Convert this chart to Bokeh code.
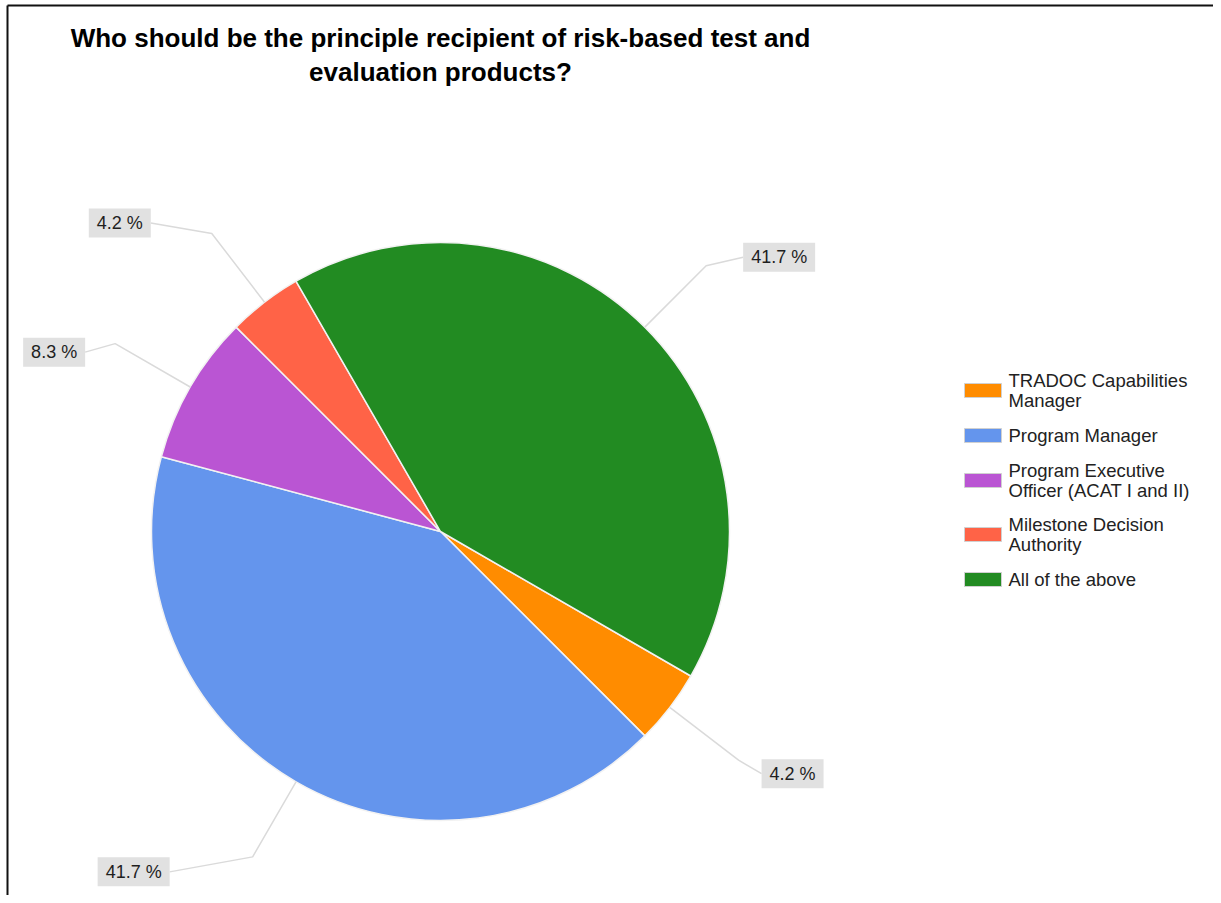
import math
import textwrap
import numpy as np
from bokeh.plotting import figure
from bokeh.models import Range1d, ColumnDataSource
from bokeh.core.properties import value
from bokeh.embed import file_html
from bokeh.resources import INLINE

# ---------------- data ----------------
title_lines = ["Who should be the principle recipient of risk-based test and",
               "evaluation products?"]
categories = ["TRADOC Capabilities Manager",
              "Program Manager",
              "Program Executive Officer (ACAT I and II)",
              "Milestone Decision Authority",
              "All of the above"]
responses = [1, 10, 2, 1, 10]
colors = ["#FF8C00", "#6495ED", "#BA55D3", "#FF6347", "#228B22"]

# ---------------- layout ----------------
W, H = 1213, 895
FONT = "Liberation Sans"


def X(sx):
    return sx


def Y(sy):
    return H - sy


p = figure(width=W, height=H, x_range=Range1d(0, W), y_range=Range1d(0, H),
           output_backend="svg", toolbar_location=None, min_border=0,
           x_axis_location=None, y_axis_location=None)
p.grid.visible = False
p.outline_line_color = None
p.background_fill_color = "white"
p.border_fill_color = "white"

# frame lines (top and left, as in the reference crop)
p.segment(x0=[X(7), X(7)], y0=[Y(5), Y(5)], x1=[W, X(7)], y1=[Y(5), 0],
          line_color="#111111", line_width=2)

# title
p.text(x=[X(440)] * 2, y=[Y(37), Y(71)], text=title_lines,
       text_font=value(FONT), text_font_style="bold", text_font_size="26px",
       text_align="center", text_baseline="alphabetic", text_color="black")

# ---------------- pie ----------------
cx, cy, R = X(440), Y(531), 289
start0 = math.radians(-30)
vals = np.array(responses, dtype=float)
frac = vals / vals.sum()
cum_after = np.cumsum(frac)
cum_before = cum_after - frac
starts = start0 - 2 * np.pi * cum_before
ends = start0 - 2 * np.pi * cum_after

src = ColumnDataSource(dict(s=starts, e=ends, color=colors))
p.wedge(x=cx, y=cy, radius=R, start_angle="s", end_angle="e", direction="clock",
        fill_color="color", line_color="#f2f2f2", line_width=1.5, source=src)

# ---------------- percentage labels ----------------
label_offsets = [(54, -13.5), (-119, -15), (-61, -8.5), (-92, 10.5), (73, 8.5)]
mids = (starts + ends) / 2
pct_text = [f"{f * 100:.1f} %" for f in frac]

lx, ly, bx, by, bw = [], [], [], [], []
for m, (ox, oy), t in zip(mids, label_offsets, pct_text):
    ex, ey = cx + R * math.cos(m), cy + R * math.sin(m)
    kx, ky = cx + 1.3 * R * math.cos(m), cy + 1.3 * R * math.sin(m)
    w = 10 * len(t) + 12
    bcx, bcy = kx + ox, ky + oy
    endx = bcx - w / 2 if ox > 0 else bcx + w / 2
    lx.append([ex, kx, endx])
    ly.append([ey, ky, bcy])
    bx.append(bcx)
    by.append(bcy)
    bw.append(w)

p.multi_line(xs=lx, ys=ly, line_color="#dadada", line_width=1.5)
p.rect(x=bx, y=by, width=bw, height=29, fill_color="#e1e1e1", line_color=None)
p.text(x=bx, y=by, text=pct_text, text_font=value(FONT), text_font_size="18px",
       text_align="center", text_baseline="middle", text_color="#1f1f1f")

# ---------------- legend ----------------
wrapped = ["\n".join(textwrap.wrap(c, 23)) for c in categories]
ycur = Y(390) + 27  # top of first entry (2-line entry height 54)
sw_y = []
for t in wrapped:
    n = t.count("\n") + 1
    h = 18 * (n + 1)
    c = ycur - h / 2
    sw_y.append(c)
    ycur -= h

p.rect(x=[X(982.5)] * len(categories), y=sw_y, width=37, height=14,
       fill_color=colors, line_color="#d0d0d0", line_width=1)
p.text(x=[X(1008)] * len(categories), y=sw_y, text=wrapped,
       text_font=value(FONT), text_font_size="18.5px", text_line_height=0.96,
       text_align="left", text_baseline="middle", text_color="#222222")

open("out.html", "w").write(file_html(p, INLINE))
